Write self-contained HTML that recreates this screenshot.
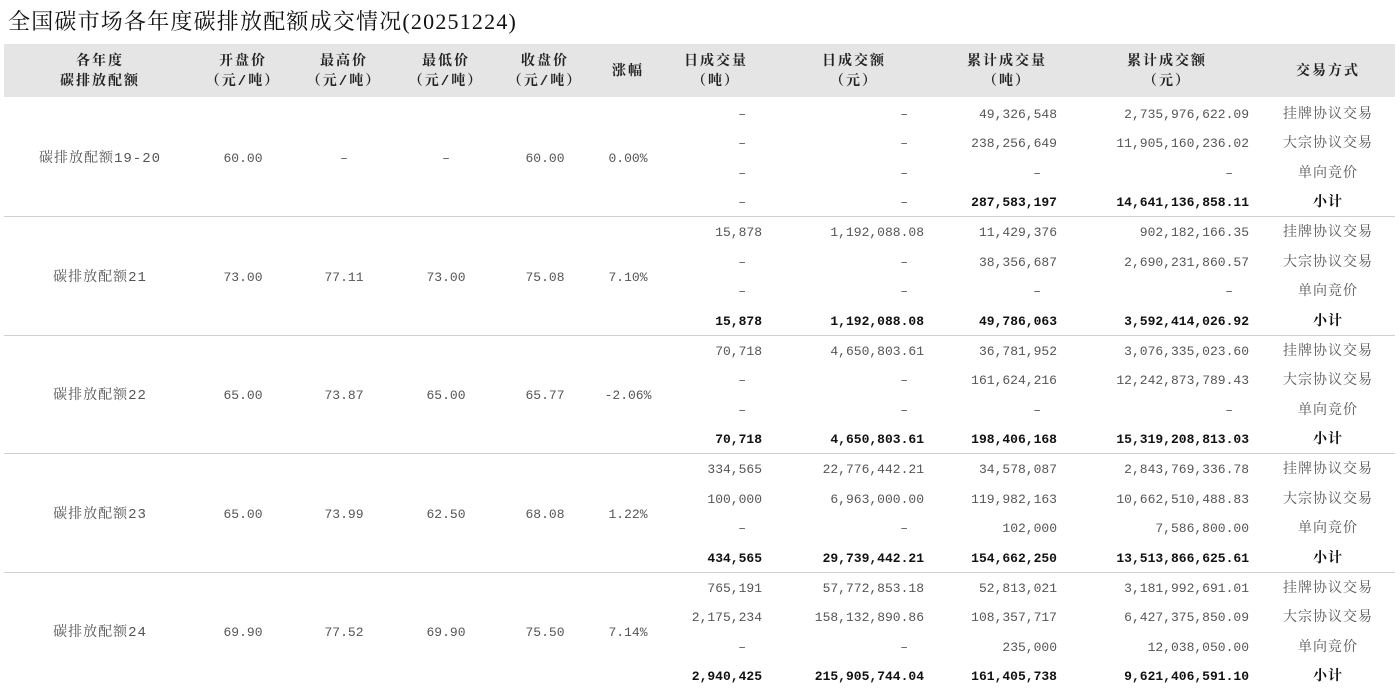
<!DOCTYPE html>
<html><head><meta charset="utf-8">
<style>
body{margin:0;width:1400px;height:690px;background:#fff;position:relative;overflow:hidden;font-family:"Liberation Mono","Noto Serif CJK SC",serif;color:#555}
.t{position:absolute;left:8px;top:8px;font-size:22px;letter-spacing:1.2px;color:#111;font-family:"Liberation Serif","Noto Serif CJK SC",serif;line-height:28px}
.hd{position:absolute;left:4px;top:44px;width:1391px;height:53px;background:#e5e5e5}
.h{position:absolute;width:140px;text-align:center;font-size:14px;letter-spacing:2px;font-weight:bold;color:#222;line-height:20px}
.ln{position:absolute;left:4px;width:1391px;height:1px;background:#cfcfcf}
.r{position:absolute;left:0;width:1400px;height:20px;line-height:20px;font-size:13px}
.r span{position:absolute;top:1px;white-space:nowrap}
.c{width:140px;text-align:center}
.z{font-size:14px;letter-spacing:1px}
.b{font-weight:bold;color:#111}
.a{right:638px}.bb{right:476px}.cc{right:343px}.dd{right:151px}
.ds{padding-right:16px}
</style></head><body>
<div class="t">全国碳市场各年度碳排放配额成交情况(20251224)</div>
<div class="hd"></div>
<div class="h" style="left:30px;top:52px">各年度<br>碳排放配额</div>
<div class="h" style="left:173px;top:52px">开盘价<br>（元/吨）</div>
<div class="h" style="left:274px;top:52px">最高价<br>（元/吨）</div>
<div class="h" style="left:376px;top:52px">最低价<br>（元/吨）</div>
<div class="h" style="left:475px;top:52px">收盘价<br>（元/吨）</div>
<div class="h" style="left:558px;top:62px">涨幅</div>
<div class="h" style="left:646px;top:52px">日成交量<br>（吨）</div>
<div class="h" style="left:784px;top:52px">日成交额<br>（元）</div>
<div class="h" style="left:937px;top:52px">累计成交量<br>（吨）</div>
<div class="h" style="left:1097px;top:52px">累计成交额<br>（元）</div>
<div class="h" style="left:1258px;top:62px">交易方式</div>

<div class="ln" style="top:216px"></div>
<div class="ln" style="top:335px"></div>
<div class="ln" style="top:453px"></div>
<div class="ln" style="top:572px"></div>

<div class="r" style="top:148px"><span class="c z" style="left:30px">碳排放配额19-20</span><span class="c" style="left:173px">60.00</span><span class="c" style="left:274px">–</span><span class="c" style="left:376px">–</span><span class="c" style="left:475px">60.00</span><span class="c" style="left:558px">0.00%</span></div>
<div class="r" style="top:104px"><span class="a ds">–</span><span class="bb ds">–</span><span class="cc">49,326,548</span><span class="dd">2,735,976,622.09</span><span class="c z" style="left:1258px">挂牌协议交易</span></div>
<div class="r" style="top:133px"><span class="a ds">–</span><span class="bb ds">–</span><span class="cc">238,256,649</span><span class="dd">11,905,160,236.02</span><span class="c z" style="left:1258px">大宗协议交易</span></div>
<div class="r" style="top:163px"><span class="a ds">–</span><span class="bb ds">–</span><span class="cc ds">–</span><span class="dd ds">–</span><span class="c z" style="left:1258px">单向竞价</span></div>
<div class="r" style="top:192px"><span class="a ds">–</span><span class="bb ds">–</span><span class="cc b">287,583,197</span><span class="dd b">14,641,136,858.11</span><span class="c z b" style="left:1258px">小计</span></div>

<div class="r" style="top:267px"><span class="c z" style="left:30px">碳排放配额21</span><span class="c" style="left:173px">73.00</span><span class="c" style="left:274px">77.11</span><span class="c" style="left:376px">73.00</span><span class="c" style="left:475px">75.08</span><span class="c" style="left:558px">7.10%</span></div>
<div class="r" style="top:222px"><span class="a">15,878</span><span class="bb">1,192,088.08</span><span class="cc">11,429,376</span><span class="dd">902,182,166.35</span><span class="c z" style="left:1258px">挂牌协议交易</span></div>
<div class="r" style="top:252px"><span class="a ds">–</span><span class="bb ds">–</span><span class="cc">38,356,687</span><span class="dd">2,690,231,860.57</span><span class="c z" style="left:1258px">大宗协议交易</span></div>
<div class="r" style="top:281px"><span class="a ds">–</span><span class="bb ds">–</span><span class="cc ds">–</span><span class="dd ds">–</span><span class="c z" style="left:1258px">单向竞价</span></div>
<div class="r" style="top:311px"><span class="a b">15,878</span><span class="bb b">1,192,088.08</span><span class="cc b">49,786,063</span><span class="dd b">3,592,414,026.92</span><span class="c z b" style="left:1258px">小计</span></div>

<div class="r" style="top:385px"><span class="c z" style="left:30px">碳排放配额22</span><span class="c" style="left:173px">65.00</span><span class="c" style="left:274px">73.87</span><span class="c" style="left:376px">65.00</span><span class="c" style="left:475px">65.77</span><span class="c" style="left:558px">-2.06%</span></div>
<div class="r" style="top:341px"><span class="a">70,718</span><span class="bb">4,650,803.61</span><span class="cc">36,781,952</span><span class="dd">3,076,335,023.60</span><span class="c z" style="left:1258px">挂牌协议交易</span></div>
<div class="r" style="top:370px"><span class="a ds">–</span><span class="bb ds">–</span><span class="cc">161,624,216</span><span class="dd">12,242,873,789.43</span><span class="c z" style="left:1258px">大宗协议交易</span></div>
<div class="r" style="top:400px"><span class="a ds">–</span><span class="bb ds">–</span><span class="cc ds">–</span><span class="dd ds">–</span><span class="c z" style="left:1258px">单向竞价</span></div>
<div class="r" style="top:429px"><span class="a b">70,718</span><span class="bb b">4,650,803.61</span><span class="cc b">198,406,168</span><span class="dd b">15,319,208,813.03</span><span class="c z b" style="left:1258px">小计</span></div>

<div class="r" style="top:504px"><span class="c z" style="left:30px">碳排放配额23</span><span class="c" style="left:173px">65.00</span><span class="c" style="left:274px">73.99</span><span class="c" style="left:376px">62.50</span><span class="c" style="left:475px">68.08</span><span class="c" style="left:558px">1.22%</span></div>
<div class="r" style="top:459px"><span class="a">334,565</span><span class="bb">22,776,442.21</span><span class="cc">34,578,087</span><span class="dd">2,843,769,336.78</span><span class="c z" style="left:1258px">挂牌协议交易</span></div>
<div class="r" style="top:489px"><span class="a">100,000</span><span class="bb">6,963,000.00</span><span class="cc">119,982,163</span><span class="dd">10,662,510,488.83</span><span class="c z" style="left:1258px">大宗协议交易</span></div>
<div class="r" style="top:518px"><span class="a ds">–</span><span class="bb ds">–</span><span class="cc">102,000</span><span class="dd">7,586,800.00</span><span class="c z" style="left:1258px">单向竞价</span></div>
<div class="r" style="top:548px"><span class="a b">434,565</span><span class="bb b">29,739,442.21</span><span class="cc b">154,662,250</span><span class="dd b">13,513,866,625.61</span><span class="c z b" style="left:1258px">小计</span></div>

<div class="r" style="top:622px"><span class="c z" style="left:30px">碳排放配额24</span><span class="c" style="left:173px">69.90</span><span class="c" style="left:274px">77.52</span><span class="c" style="left:376px">69.90</span><span class="c" style="left:475px">75.50</span><span class="c" style="left:558px">7.14%</span></div>
<div class="r" style="top:578px"><span class="a">765,191</span><span class="bb">57,772,853.18</span><span class="cc">52,813,021</span><span class="dd">3,181,992,691.01</span><span class="c z" style="left:1258px">挂牌协议交易</span></div>
<div class="r" style="top:607px"><span class="a">2,175,234</span><span class="bb">158,132,890.86</span><span class="cc">108,357,717</span><span class="dd">6,427,375,850.09</span><span class="c z" style="left:1258px">大宗协议交易</span></div>
<div class="r" style="top:637px"><span class="a ds">–</span><span class="bb ds">–</span><span class="cc">235,000</span><span class="dd">12,038,050.00</span><span class="c z" style="left:1258px">单向竞价</span></div>
<div class="r" style="top:666px"><span class="a b">2,940,425</span><span class="bb b">215,905,744.04</span><span class="cc b">161,405,738</span><span class="dd b">9,621,406,591.10</span><span class="c z b" style="left:1258px">小计</span></div>
</body></html>
